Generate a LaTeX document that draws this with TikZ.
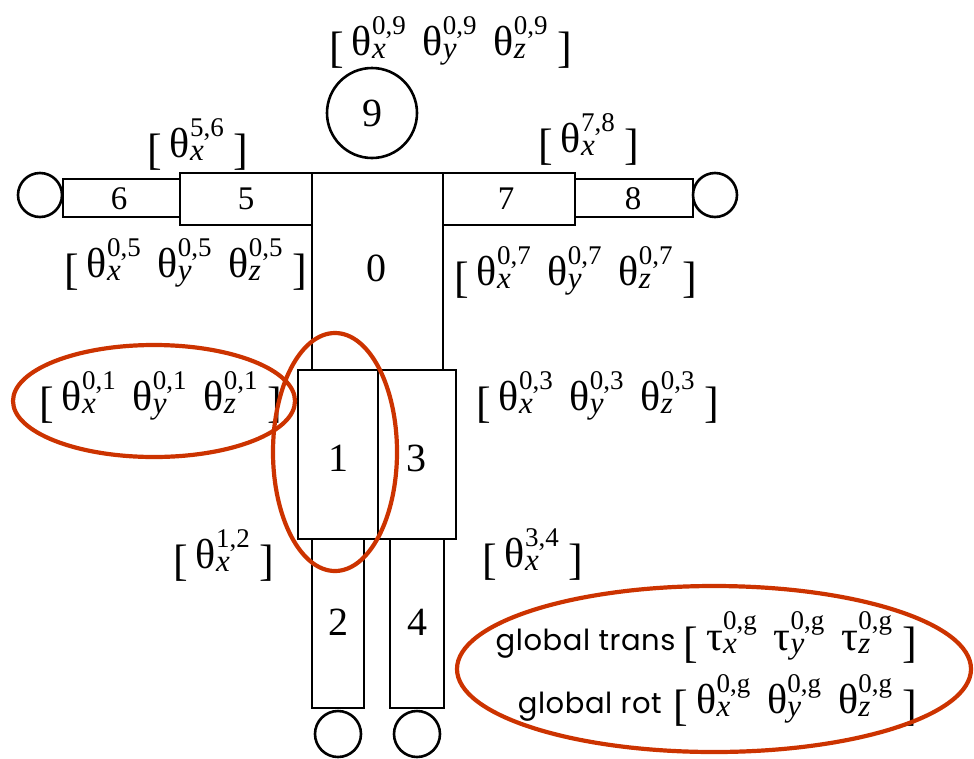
\documentclass[tikz,border=0pt]{standalone}
\usepackage{fontspec}
\setmainfont{Liberation Serif}
\newfontfamily\glofont{Poppins}[LetterSpace=2]
\usetikzlibrary{calc}
\definecolor{rustred}{RGB}{204,51,0}

\newcommand{\lbk}{\raisebox{-7pt}{\fontsize{44}{44}\selectfont[}\hspace{8pt}}
\newcommand{\rbk}{\hspace{10pt}\raisebox{-7pt}{\fontsize{44}{44}\selectfont]}}
\newcommand{\ang}[3][θ]{#1\rlap{\raisebox{21pt}{\fontsize{27}{27}\selectfont #3}}\rlap{\raisebox{-3pt}{\fontsize{31}{31}\selectfont\itshape #2}}\phantom{\fontsize{27}{27}\selectfont #3}}
\newcommand{\trip}[2][θ]{\lbk\ang[#1]{x}{#2}\hspace{17pt}\ang[#1]{y}{#2}\hspace{17pt}\ang[#1]{z}{#2}\rbk}

\begin{document}
\begin{tikzpicture}[x=1pt, y=-1pt, line width=2.6pt,
  part/.style={font=\fontsize{40}{40}\selectfont},
  armpart/.style={font=\fontsize{33}{33}\selectfont},
  lbl/.style={anchor=base west, inner sep=0pt, font=\fontsize{42}{42}\selectfont},
  glo/.style={anchor=base east, inner sep=0pt, font=\fontsize{42}{42}\selectfont},
  ring/.style={rustred, line width=4.2pt}]
  \useasboundingbox (0,0) rectangle (974,758);

  % head, hands, feet
  \draw (372,113) circle (45);
  \draw (40,195) circle (22);
  \draw (715,195) circle (22);
  \draw (338,734) circle (23);
  \draw (417,734) circle (23);

  % arms
  \draw (63,179) rectangle (180,217);
  \draw (180,173) rectangle (312,225);
  \draw (443,173) rectangle (575,225);
  \draw (575,179) rectangle (693,217);

  % torso, hips, legs
  \draw (312,173) rectangle (443,370);
  \draw (298,370) rectangle (378,539);
  \draw (378,370) rectangle (456,539);
  \draw (312,539) rectangle (364,708);
  \draw (390,539) rectangle (444,708);

  \node[part] (n9) at (372,113) {9};
  \node[part] (n0) at (376,268) {0};
  \node[armpart] (n6) at (119,199) {6};
  \node[armpart] (n5) at (246,199) {5};
  \node[armpart] (n7) at (506,199) {7};
  \node[armpart] (n8) at (633,199) {8};
  \node[part] (n1) at (338,458) {1};
  \node[part] (n3) at (416,458) {3};
  \node[part] (n2) at (338,622) {2};
  \node[part] (n4) at (417,622) {4};

  % joint angles
  \node[lbl] (l09) at (328,55) {\trip{0,9}};
  \node[lbl] (l56) at (146,157) {\lbk\ang{x}{5,6}\rbk};
  \node[lbl] (l78) at (537,152) {\lbk\ang{x}{7,8}\rbk};
  \node[lbl] (l05) at (63,277) {\trip{0,5}};
  \node[lbl] (l07) at (453,285) {\trip{0,7}};
  \node[lbl] (l01) at (38,410) {\trip{0,1}};
  \node[lbl] (l03) at (475,410) {\trip{0,3}};
  \node[lbl] (l12) at (172,568) {\lbk\ang{x}{1,2}\rbk};
  \node[lbl] (l34) at (481,567) {\lbk\ang{x}{3,4}\rbk};

  % global pose
  \node[glo] (gtr) at (918,650) {{\glofont\fontsize{29}{29}\selectfont global trans}\hspace{8pt}\trip[τ]{0,g}};
  \node[glo] (grt) at (918,713) {{\glofont\fontsize{29}{29}\selectfont global rot}\hspace{12pt}\trip{0,g}};

  % highlights
  \draw[ring] (154,401) ellipse (141 and 56);
  \draw[ring] (335,452) ellipse (62 and 119);
  \draw[ring] (714,669) ellipse (257 and 83);
\end{tikzpicture}
\end{document}
